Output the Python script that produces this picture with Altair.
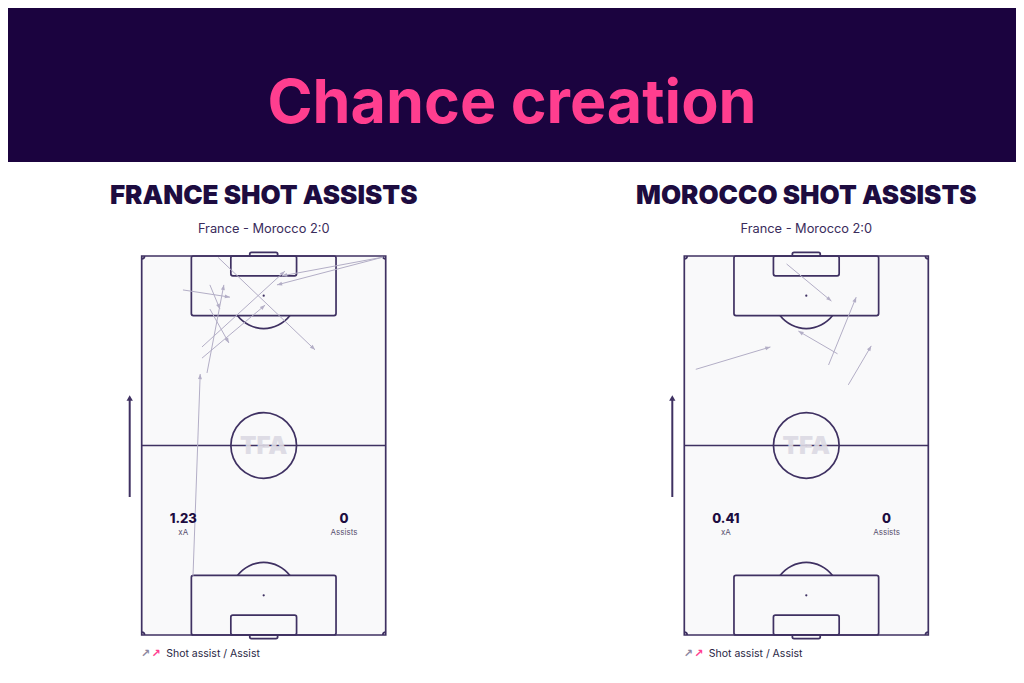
import math
import altair as alt
import pandas as pd

# ---------------- data ----------------
TITLE = "Chance creation"
PANEL_TITLES = ["FRANCE SHOT ASSISTS", "MOROCCO SHOT ASSISTS"]
MATCH = "France - Morocco 2:0"
XA_VALUES = ["1.23", "0.41"]
ASSIST_VALUES = ["0", "0"]
XA_LABEL = "xA"
ASSIST_LABEL = "Assists"
LEGEND_TEXT = "Shot assist / Assist"
WATERMARK = "TFA"

# shot assists, pitch metres (x across 0-68, y towards goal 0-105)
FRA_XS = [11.5, 19.0, 19.0, 18.2, 16.8, 16.8, 21.3, 67.3, 67.3, 14.3]
FRA_YS = [95.6, 97.0, 90.3, 72.6, 76.7, 79.8, 104.6, 104.7, 104.7, 16.4]
FRA_XE = [24.6, 21.8, 24.3, 22.9, 34.4, 39.9, 48.3, 37.7, 39.1, 16.3]
FRA_YE = [93.6, 90.3, 80.9, 97.0, 91.4, 100.8, 79.0, 97.0, 99.5, 72.3]

MAR_XS = [3.2, 28.5, 42.7, 40.2, 45.7]
MAR_YS = [73.6, 102.8, 77.9, 74.8, 69.3]
MAR_XE = [24.0, 41.0, 31.8, 47.9, 52.1]
MAR_YE = [79.8, 92.5, 84.2, 93.6, 80.1]

# ---------------- style / layout ----------------
BG_DARK = "#1b033f"
PINK = "#ff3e8f"
INK = "#1d0c40"
LINE = "#3f3162"
PITCH_FILL = "#f9f9fa"
ARROW = "#b3aec6"
FONT = "Inter"

PAGE_W = 1008
HEAD_H = 154
PANEL_W = 504
PANEL_H = 505
PITCH_W_PX = 244
PITCH_H_PX = 379
PITCH_TOP = 94
PITCH_LEFTS = [133.7, 172.3]

L, W = 105.0, 68.0
SX = PITCH_W_PX / W
SY = PITCH_H_PX / L
LW = 1.7

# pitch geometry (standard dimensions, metres)
C = W / 2
rect_rows = [
    dict(x=0, x2=W, y=0, y2=L, kind="outline"),
    dict(x=C - 20.16, x2=C + 20.16, y=L - 16.5, y2=L, kind="box"),
    dict(x=C - 20.16, x2=C + 20.16, y=0, y2=16.5, kind="box"),
    dict(x=C - 9.16, x2=C + 9.16, y=L - 5.5, y2=L, kind="box"),
    dict(x=C - 9.16, x2=C + 9.16, y=0, y2=5.5, kind="box"),
]
goal_rows = [
    dict(x=C - 3.9, x2=C + 3.9, y=L, y2=L + 1.0),
    dict(x=C - 3.9, x2=C + 3.9, y=-1.0, y2=0),
]
A = math.acos(5.5 / 9.15)
P = math.pi
arc_rows = [
    dict(x=C, y=L / 2, t1=0, t2=2 * P, r=9.15),
    dict(x=C, y=L - 11, t1=P - A, t2=P + A, r=9.15),
    dict(x=C, y=11, t1=2 * P - A, t2=2 * P + A, r=9.15),
    dict(x=0, y=0, t1=0, t2=P / 2, r=0.8),
    dict(x=W, y=0, t1=3 * P / 2, t2=2 * P, r=0.8),
    dict(x=0, y=L, t1=P / 2, t2=P, r=0.8),
    dict(x=W, y=L, t1=P, t2=3 * P / 2, r=0.8),
]
for row in arc_rows:
    row["ro"] = row["r"] * SX + LW / 2
    row["ri"] = row["r"] * SX - LW / 2
spot_rows = [dict(x=C, y=11), dict(x=C, y=L - 11), dict(x=C, y=L / 2)]

HEAD_SHAPE = "M0,0 L-0.85,2.2 L0.85,2.2 Z"


def panel(i, xs, ys, xe, ye):
    left = PITCH_LEFTS[i]
    cx = left + PITCH_W_PX / 2
    xdom = [-left / SX, (PANEL_W - left) / SX]
    ydom = [-(PANEL_H - PITCH_TOP - PITCH_H_PX) / SY, L + PITCH_TOP / SY]
    xsc = alt.Scale(domain=xdom, nice=False, zero=False)
    ysc = alt.Scale(domain=ydom, nice=False, zero=False)

    def X(f):
        return alt.X(f, type="quantitative", scale=xsc, axis=None)

    def Y(f):
        return alt.Y(f, type="quantitative", scale=ysc, axis=None)

    rects = pd.DataFrame(rect_rows)
    outline = alt.Chart(rects[rects.kind == "outline"]).mark_rect(
        fill=PITCH_FILL, stroke=LINE, strokeWidth=LW
    ).encode(x=X("x"), x2="x2", y=Y("y"), y2="y2")
    goals = alt.Chart(pd.DataFrame(goal_rows)).mark_rect(
        fill=PITCH_FILL, stroke=LINE, strokeWidth=LW, cornerRadius=2
    ).encode(x=X("x"), x2="x2", y=Y("y"), y2="y2")
    boxes = alt.Chart(rects[rects.kind == "box"]).mark_rect(
        fill=PITCH_FILL, fillOpacity=0, stroke=LINE, strokeWidth=LW, cornerRadius=2
    ).encode(x=X("x"), x2="x2", y=Y("y"), y2="y2")
    half = alt.Chart(pd.DataFrame([dict(x=0, x2=W, y=L / 2)])).mark_rule(
        color=LINE, strokeWidth=LW
    ).encode(x=X("x"), x2="x2", y=Y("y"))
    arcs = alt.Chart(pd.DataFrame(arc_rows)).mark_arc(color=LINE).encode(
        x=X("x"), y=Y("y"),
        theta=alt.Theta("t1:Q", scale=None), theta2="t2:Q",
        radius=alt.Radius("ro:Q", scale=None), radius2="ri:Q",
    )
    spots = alt.Chart(pd.DataFrame(spot_rows)).mark_point(
        filled=True, color=LINE, size=5, opacity=1
    ).encode(x=X("x"), y=Y("y"))

    adf = pd.DataFrame({"xs": xs, "ys": ys, "xe": xe, "ye": ye})
    rules = alt.Chart(adf).mark_rule(color=ARROW, strokeWidth=1).encode(
        x=X("xs"), y=Y("ys"), x2="xe", y2="ye"
    )
    heads = alt.Chart(adf).transform_calculate(
        ang=f"(atan2((datum.xe-datum.xs)*{SX}, (datum.ye-datum.ys)*{SY})*180/PI + 360) % 360"
    ).mark_point(shape=HEAD_SHAPE, filled=True, color=ARROW, size=22, opacity=1).encode(
        x=X("xe"), y=Y("ye"), angle=alt.Angle("ang:Q", scale=None)
    )

    one = pd.DataFrame({"k": [0]})
    base = alt.Chart(one)

    def txt(s, x, y, size, color, weight=400, align="center", font=FONT, baseline="middle", opacity=1):
        return base.mark_text(
            text=s, font=font, fontSize=size, fontWeight=weight, color=color,
            align=align, baseline=baseline, opacity=opacity
        ).encode(x=alt.value(x), y=alt.value(y))

    texts = [
        txt(WATERMARK, cx, PITCH_TOP + PITCH_H_PX / 2 + 1, 24, "#dcd9e3", 900, opacity=0.9),
        txt(PANEL_TITLES[i], cx, 34, 26, INK, 900),
        txt(MATCH, cx, 67, 12.8, "#3a2c5c", 400),
        txt(XA_VALUES[i], left + 41.6, 357, 13, INK, 800),
        txt(XA_LABEL, left + 41.6, 371, 8, "#5a5170", 400),
        txt(ASSIST_VALUES[i], left + 202.3, 357, 13, INK, 800),
        txt(ASSIST_LABEL, left + 202.3, 371, 8, "#5a5170", 400),
        txt("\u2197", left + 4, 492, 11, "#8d87a0", 700, font="DejaVu Sans"),
        txt("\u2197", left + 14.5, 492, 11, PINK, 700, font="DejaVu Sans"),
        txt(LEGEND_TEXT, left + 24.5, 492, 10.5, "#2a1f45", 400, align="left"),
    ]
    dir_line = base.mark_rule(color=LINE, strokeWidth=2).encode(
        x=alt.value(left - 12), y=alt.value(236), y2=alt.value(335)
    )
    dir_head = base.mark_point(shape="triangle-up", filled=True, color=LINE, size=40, opacity=1).encode(
        x=alt.value(left - 12), y=alt.value(236)
    )

    return alt.layer(
        outline, goals, boxes, half, arcs, spots, rules, heads, dir_line, dir_head, *texts
    ).properties(width=PANEL_W, height=PANEL_H)


head_df = pd.DataFrame({"label": [TITLE]})
band = alt.Chart(head_df).mark_rect(color=BG_DARK).encode(
    x=alt.value(0), x2=alt.value(PAGE_W), y=alt.value(0), y2=alt.value(HEAD_H)
)
htext = alt.Chart(head_df).mark_text(
    font=FONT, fontSize=61, fontWeight=700, color=PINK, baseline="alphabetic", align="center"
).encode(x=alt.value(PAGE_W / 2), y=alt.value(115), text="label:N")
header = alt.layer(band, htext).properties(width=PAGE_W, height=HEAD_H)

panels = alt.hconcat(
    panel(0, FRA_XS, FRA_YS, FRA_XE, FRA_YE),
    panel(1, MAR_XS, MAR_YS, MAR_XE, MAR_YE),
    spacing=0, bounds="flush",
).resolve_scale(x="independent", y="independent")

chart = alt.vconcat(header, panels, spacing=0, bounds="flush").properties(
    padding=0, background="white"
).configure_view(stroke=None)

chart.save("out.html", embed_options={"renderer": "svg", "actions": False})
